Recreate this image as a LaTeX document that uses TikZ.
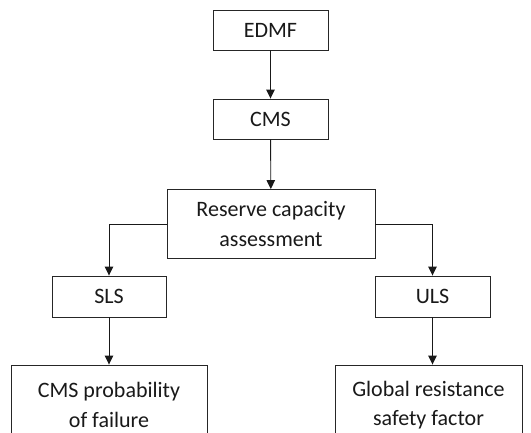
\documentclass[tikz,border=0pt]{standalone}
\usepackage{fontspec}
\setmainfont{Carlito}
\usetikzlibrary{arrows.meta}
\begin{document}
\begin{tikzpicture}[x=1pt,y=-1pt,
  box/.style={draw=black!85,line width=0.9pt,rectangle,inner sep=0pt,align=center,
    font=\fontsize{22}{29.5}\selectfont,text=black!90},
  arr/.style={draw=black!90,line width=0.9pt,-{Triangle[length=9pt,width=8.5pt]}}]
\useasboundingbox (0,0) rectangle (531,432);
\clip (0,0) rectangle (531,432);
\fill[white] (0,0) rectangle (531,432);
\node[box,minimum width=115pt,minimum height=40pt] (edmf) at (270.5,30) {EDMF};
\node[box,minimum width=115pt,minimum height=40pt] (cms) at (270.5,119) {CMS};
\node[box,minimum width=208pt,minimum height=69pt] (res) at (271,224) {Reserve capacity\\assessment};
\node[box,minimum width=114pt,minimum height=41pt] (sls) at (109,296.5) {SLS};
\node[box,minimum width=115pt,minimum height=41pt] (uls) at (432.5,296.5) {ULS};
\node[box,minimum width=196pt,minimum height=80pt] (cmsp) at (109,405) {CMS probability\\of failure};
\node[box,minimum width=187pt,minimum height=80pt] (glob) at (428.5,405) {Global resistance\\safety factor};
\draw[arr] (edmf) -- (cms);
\draw[arr] (cms) -- (res);
\draw[arr] (res.west) -| (sls.north);
\draw[arr] (res.east) -| (uls.north);
\draw[arr] (sls) -- (cmsp);
\draw[arr] (uls.south) -- (uls.south |- glob.north);
\end{tikzpicture}
\end{document}
